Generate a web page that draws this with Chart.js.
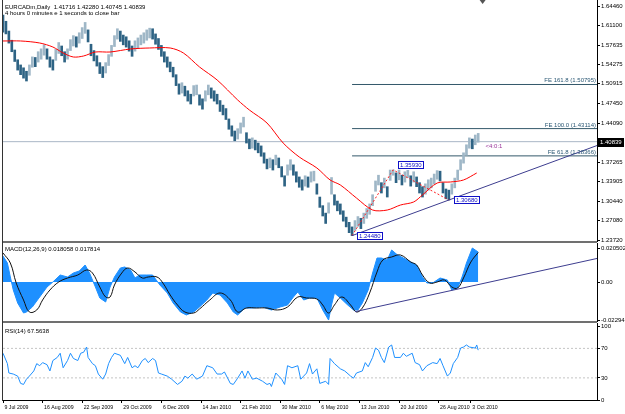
<!DOCTYPE html>
<html>
<head>
<meta charset="utf-8">
<script src="https://cdn.jsdelivr.net/npm/chart.js@4.4.0/dist/chart.umd.min.js"></script>
<style>
  html, body { margin: 0; padding: 0; background: #fff; }
  #wrap { position: relative; width: 625px; height: 414px; overflow: hidden; background: #fff; }
  canvas { position: absolute; left: 0; }
  .sep { position: absolute; left: 3px; width: 594px; height: 2px; background: #707070; }
  #leftEdge { position: absolute; left: 2px; top: 0; width: 1px; height: 401px; background: #333; }
</style>
</head>
<body>
<div id="wrap">
  <div class="sep" style="top:241px"></div>
  <div class="sep" style="top:321px"></div>
  <canvas id="rsiChart" width="625" height="91" style="top:323px"></canvas>
  <canvas id="macdChart" width="625" height="84" style="top:243px"></canvas>
  <canvas id="priceChart" width="625" height="250" style="top:0"></canvas>
  <div id="leftEdge"></div>
</div>
<script>
// ---- data (x = bar number from 9 Jul 2009) ----
const dayLabels = ['9 Jul 2009', '16 Aug 2009', '22 Sep 2009', '29 Oct 2009', '6 Dec 2009', '14 Jan 2010',
  '21 Feb 2010', '30 Mar 2010', '6 May 2010', '13 Jun 2010', '20 Jul 2010', '26 Aug 2010', '3 Oct 2010'];
const dayTicks = [0, 27, 54, 81, 108, 135, 162, 189, 216, 243, 270, 297, 319];
const lastDay = 405;

const priceTicks = [1.64460, 1.61100, 1.57635, 1.54275, 1.50915, 1.47450, 1.44090, 1.37265, 1.33905, 1.30440, 1.27080, 1.23720];
const lastBar = { open: 1.41716, high: 1.42280, low: 1.40745, close: 1.40839 };

// one bar every 2 days
const barStep = 2;
const priceLow = [
  1.5990, 1.5960, 1.5800, 1.5650, 1.5480, 1.5330, 1.5250, 1.5190, 1.5140, 1.5240,
  1.5380, 1.5390, 1.5470, 1.5520, 1.5590, 1.5520, 1.5380, 1.5330, 1.5500, 1.5620,
  1.5580, 1.5470, 1.5520, 1.5670, 1.5750, 1.5730, 1.5800, 1.5880, 1.5970, 1.5820,
  1.5580, 1.5490, 1.5400, 1.5270, 1.5200, 1.5280, 1.5410, 1.5570, 1.5740, 1.5870,
  1.5830, 1.5770, 1.5730, 1.5660, 1.5570, 1.5660, 1.5710, 1.5770, 1.5800, 1.5850,
  1.5890, 1.5870, 1.5780, 1.5690, 1.5570, 1.5470, 1.5380, 1.5300, 1.5210, 1.5060,
  1.4910, 1.4930, 1.4880, 1.4790, 1.4740, 1.4880, 1.4900, 1.4720, 1.4650, 1.4790,
  1.4900, 1.4840, 1.4790, 1.4740, 1.4610, 1.4550, 1.4470, 1.4300, 1.4180, 1.4100,
  1.4130, 1.4230, 1.4340, 1.4060, 1.3960, 1.3970, 1.3940, 1.3890, 1.3830, 1.3710,
  1.3610, 1.3630, 1.3590, 1.3680, 1.3630, 1.3470, 1.3310, 1.3500, 1.3590, 1.3500,
  1.3380, 1.3290, 1.3240, 1.3310, 1.3290, 1.3380, 1.3400, 1.3170, 1.2940, 1.2790,
  1.2660, 1.2840, 1.3170, 1.2980, 1.2880, 1.2820, 1.2700, 1.2600, 1.2500, 1.2448,
  1.2540, 1.2610, 1.2570, 1.2660, 1.2750, 1.2820, 1.2970, 1.3220, 1.3330, 1.3190,
  1.3280, 1.3120, 1.3410, 1.3500, 1.3370, 1.3420, 1.3330, 1.3380, 1.3460, 1.3310,
  1.3380, 1.3300, 1.3190, 1.3120, 1.3170, 1.3240, 1.3280, 1.3350, 1.3430, 1.3400,
  1.3190, 1.3090, 1.3068, 1.3170, 1.3280, 1.3420, 1.3590, 1.3710, 1.3850, 1.3970,
  1.3960, 1.4030, 1.40745
];
const priceHigh = [
  1.6290, 1.6180, 1.6010, 1.5850, 1.5680, 1.5510, 1.5420, 1.5370, 1.5310, 1.5420,
  1.5560, 1.5550, 1.5650, 1.5700, 1.5770, 1.5700, 1.5560, 1.5510, 1.5690, 1.5810,
  1.5750, 1.5650, 1.5700, 1.5860, 1.5930, 1.5910, 1.5980, 1.6070, 1.6160, 1.6030,
  1.5780, 1.5670, 1.5580, 1.5460, 1.5390, 1.5460, 1.5600, 1.5760, 1.5930, 1.6050,
  1.6010, 1.5940, 1.5910, 1.5840, 1.5750, 1.5840, 1.5890, 1.5940, 1.5980, 1.6030,
  1.6060, 1.6050, 1.5960, 1.5880, 1.5760, 1.5650, 1.5560, 1.5470, 1.5380, 1.5250,
  1.5090, 1.5110, 1.5050, 1.4970, 1.4910, 1.5060, 1.5070, 1.4900, 1.4830, 1.4970,
  1.5070, 1.5020, 1.4970, 1.4910, 1.4800, 1.4720, 1.4660, 1.4480, 1.4360, 1.4270,
  1.4310, 1.4410, 1.4510, 1.4240, 1.4130, 1.4150, 1.4110, 1.4060, 1.4010, 1.3890,
  1.3780, 1.3800, 1.3770, 1.3850, 1.3800, 1.3650, 1.3490, 1.3680, 1.3770, 1.3680,
  1.3560, 1.3470, 1.3420, 1.3490, 1.3470, 1.3560, 1.3570, 1.3350, 1.3120, 1.2970,
  1.2840, 1.3020, 1.3460, 1.3160, 1.3050, 1.3000, 1.2880, 1.2770, 1.2680, 1.2600,
  1.2710, 1.2780, 1.2750, 1.2840, 1.2920, 1.3000, 1.3160, 1.3400, 1.3500, 1.3370,
  1.3450, 1.3300, 1.3590, 1.3593, 1.3540, 1.3590, 1.3500, 1.3560, 1.3585, 1.3490,
  1.3560, 1.3470, 1.3370, 1.3300, 1.3350, 1.3420, 1.3450, 1.3520, 1.3580, 1.3570,
  1.3370, 1.3260, 1.3240, 1.3350, 1.3450, 1.3590, 1.3770, 1.3890, 1.4030, 1.4150,
  1.4130, 1.4200, 1.4228
];

const maDay = [0, 12, 25, 34, 41, 48, 55, 63, 73, 87, 100, 114, 123, 134, 146, 160, 168, 180, 191, 202,
  214, 223, 230, 241, 252, 262, 271, 280, 286, 296, 305, 314, 323];
const maValue = [1.5837, 1.5837, 1.5802, 1.5732, 1.5628, 1.5558, 1.5576, 1.5645, 1.5645, 1.5698, 1.5715,
  1.5715, 1.5628, 1.5384, 1.5158, 1.4810, 1.4635, 1.4409, 1.4061, 1.3817, 1.3626, 1.3417, 1.3330, 1.3103,
  1.2894, 1.2894, 1.2981, 1.3034, 1.3156, 1.3364, 1.3382, 1.3417, 1.3539];

const feName = ['FE 161.8', 'FE 100.0', 'FE 61.8'];
const feLevel = [1.50795, 1.43114, 1.38366];
const feStartDay = 238;

const pivotDay = [238, 266, 304];
const pivotPrice = [1.24480, 1.35930, 1.30680];

const trendDay = [238, 405];
const trendPrice = [1.2448, 1.4017];

const ratioText = '<4:0:1';
const ratioDay = 329;
const ratioPrice = 1.4005;

// MACD(12,26,9)
const macdDay = [0, 3, 5, 7, 10, 14, 16, 20, 25, 30, 34, 39, 44, 48, 52, 56, 59, 63, 66, 70,
  73, 76, 80, 83, 87, 90, 93, 98, 102, 107, 112, 116, 121, 125, 130, 134, 139, 143, 148, 153,
  157, 160, 165, 170, 177, 183, 189, 194, 198, 201, 205, 209, 214, 218, 222, 224, 226, 230, 235, 239,
  242, 245, 249, 252, 255, 258, 262, 265, 269, 273, 278, 282, 286, 289, 293, 298, 303, 306, 310, 313,
  316, 320, 324];
const macdValue = [0.01568, 0.01146, 0.00302, -0.00482, -0.01266, -0.01869, -0.01809, -0.01508, -0.00905, -0.00302,
  0, 0.00422, 0.00302, 0.00543, 0.00663, 0.01025, 0.00543, -0.00302, -0.00965, -0.01206,
  -0.00302, 0.00302, 0.00844, 0.00905, 0.00724, 0.00241, 0.00422, 0.00422, 0.00422, -0.00181,
  -0.00663, -0.01266, -0.01809, -0.0199, -0.01809, -0.01508, -0.01085, -0.00663, -0.00784, -0.01266,
  -0.01809, -0.0199, -0.01568, -0.01568, -0.01508, -0.01688, -0.01508, -0.01387, -0.00905, -0.00603,
  -0.01085, -0.00965, -0.00965, -0.01688, -0.02294, -0.01387, -0.00663, -0.00965, -0.01387, -0.01688,
  -0.01688, -0.01266, -0.00482, 0.00543, 0.01447, 0.01447, 0.01327, 0.0193, 0.01628, 0.01447,
  0.01206, 0.01025, 0.00302, -0.0006, -0.0006, 0.00241, 0.00121, -0.00482, -0.00362, 0.00302,
  0.01146, 0.020502, 0.018058];
const signalDay = [0, 5, 9, 14, 18, 23, 27, 32, 38, 44, 51, 57, 61, 66, 70, 73, 76, 81, 85, 90,
  95, 99, 105, 109, 114, 119, 124, 130, 134, 141, 148, 155, 160, 166, 173, 180, 187, 194, 201, 207,
  214, 218, 222, 226, 231, 237, 241, 245, 250, 255, 259, 265, 271, 278, 282, 286, 291, 296, 301, 306,
  310, 314, 319, 324];
const signalValue = [0.01749, 0.01146, -0.0006, -0.01085, -0.01809, -0.01688, -0.01085, -0.00482, 0, 0.00241,
  0.00422, 0.00724, 0.00543, -0.00302, -0.00905, -0.00905, -0.00181, 0.00543, 0.00844, 0.00603,
  0.00241, 0.00302, 0.00302, -0.0006, -0.00784, -0.01387, -0.01809, -0.01869, -0.01628, -0.01085,
  -0.00663, -0.01085, -0.01809, -0.01568, -0.01568, -0.01568, -0.01688, -0.01508, -0.00905, -0.00965,
  -0.01025, -0.01387, -0.01869, -0.01387, -0.00905, -0.01387, -0.01809, -0.01568, -0.00663, 0.00603,
  0.01327, 0.01508, 0.01628, 0.01206, 0.01025, 0.00422, -0.0006, 0, 0.00121, -0.00302,
  -0.00362, 0.00241, 0.01206, 0.017814];
const macdTrendDay = [240, 405];
const macdTrendValue = [-0.0179, 0.0142];
const macdTicks = [0.020502, 0, -0.02294];
const macdTickText = ['0.020502', '0.00', '-0.02294'];

// RSI(14)
const rsiDay = [0, 3, 4, 7, 10, 12, 14, 16, 18, 21, 23, 25, 27, 30, 32, 34, 37, 39, 41, 44,
  46, 48, 51, 53, 55, 57, 58, 61, 63, 65, 68, 70, 72, 74, 76, 80, 83, 85, 88, 90,
  92, 95, 97, 99, 102, 104, 106, 108, 112, 115, 119, 122, 124, 126, 129, 132, 136, 139, 143, 146,
  149, 151, 155, 157, 160, 163, 165, 167, 170, 173, 177, 180, 182, 183, 186, 188, 190, 192, 194, 197,
  201, 203, 205, 207, 209, 211, 214, 216, 220, 222, 223, 226, 230, 233, 237, 239, 241, 245, 247, 249,
  252, 254, 256, 258, 260, 263, 265, 267, 271, 273, 275, 279, 281, 284, 286, 289, 293, 296, 298, 300,
  303, 305, 307, 310, 312, 314, 316, 318, 322, 323, 324];
const rsiValue = [63.4, 49.3, 36.6, 35.2, 32.4, 22.5, 21.1, 28.2, 32.4, 39.4, 49.3, 46.5, 50.7, 47.9, 39.4, 53.5, 57.7, 63.4, 43.7, 53.5,
  63.4, 56.3, 53.5, 63.4, 64.8, 71.8, 57.7, 49.3, 46.5, 35.2, 28.2, 35.2, 49.3, 57.7, 63.4, 60.6, 49.3, 57.7, 43.7, 46.5,
  43.7, 53.5, 56.3, 50.7, 56.3, 53.5, 36.6, 35.2, 32.4, 28.2, 21.1, 25.4, 32.4, 29.6, 35.2, 28.2, 32.4, 46.5, 43.7, 35.2,
  35.2, 38.0, 22.5, 21.1, 29.6, 39.4, 29.6, 39.4, 28.2, 29.6, 25.4, 21.1, 22.5, 18.3, 36.6, 32.4, 28.2, 21.1, 46.5, 43.7,
  46.5, 28.2, 32.4, 36.6, 49.3, 35.2, 42.3, 22.5, 25.4, 21.1, 56.3, 49.3, 42.3, 39.4, 32.4, 29.6, 36.6, 39.4, 50.7, 45.1,
  57.7, 70.4, 67.6, 57.7, 50.7, 71.8, 74.6, 57.7, 57.7, 63.4, 59.2, 63.4, 50.7, 47.9, 39.4, 46.5, 50.7, 49.3, 56.3, 46.5,
  32.4, 36.6, 49.3, 57.7, 70.4, 71.8, 74.6, 71.8, 70.4, 74.6, 67.5638];
const rsiTicks = [100, 70, 30, 0];
const rsiLevels = [70, 30];

// ---- chart setup ----
Chart.defaults.font.family = '"Liberation Sans", Arial, sans-serif';
Chart.defaults.font.size = 6;
Chart.defaults.color = '#000';
Chart.defaults.animation = false;

const tinyFont = '6px "Liberation Sans", Arial, sans-serif';
const pts = (xs, ys) => xs.map((d, i) => ({ x: d, y: ys[i] }));

function xAxis(show) {
    return {
        type: 'linear', min: 0, max: lastDay, offset: false, display: show, bounds: 'data',
        afterBuildTicks: s => { s.ticks = dayTicks.map(v => ({ value: v })); },
        afterFit: s => { s.paddingLeft = 0; s.paddingRight = 0; if (show) s.height = 14; },
        grid: { drawOnChartArea: false, offset: false, tickLength: 3, color: '#000' },
        border: { color: '#000' },
        ticks: { align: 'start', labelOffset: 1.5, padding: 1, autoSkip: false, maxRotation: 0,
            font: { size: 5.2 },
            callback: v => dayLabels[dayTicks.indexOf(v)] }
    };
}

function yAxis(min, max, ticks, fmt) {
    return {
        position: 'right', min: min, max: max, bounds: 'data', beginAtZero: false,
        afterBuildTicks: s => { s.ticks = ticks.map(v => ({ value: v })); },
        afterFit: s => { s.width = 28; s.paddingTop = 0; s.paddingBottom = 0; },
        grid: { drawOnChartArea: false, tickLength: 3, color: '#000' },
        border: { color: '#000' },
        ticks: { padding: 1, autoSkip: false, callback: fmt }
    };
}

function common(bottomPad) {
    return {
        responsive: false,
        devicePixelRatio: 1,
        events: [],
        layout: { padding: { left: 3, right: 0, top: 0, bottom: bottomPad } },
        plugins: { legend: { display: false }, tooltip: { enabled: false } }
    };
}

// price panel texts
const priceText = {
    id: 'priceText',
    afterDatasetsDraw(chart) {
        const { ctx, scales: { x, y } } = chart;
        ctx.save();
        ctx.font = tinyFont;
        ctx.textBaseline = 'alphabetic';

        ctx.fillStyle = '#000';
        ctx.fillText(`EURCADm,Daily  ${lastBar.open.toFixed(5)} ${lastBar.high.toFixed(5)} ${lastBar.low.toFixed(5)} ${lastBar.close.toFixed(5)}`, 5, 9);
        ctx.fillText('4 hours 0 minutes e 1 seconds to close bar', 5, 15);

        ctx.textAlign = 'right';
        ctx.fillStyle = '#2b5874';
        feLevel.forEach((lv, i) => {
            ctx.fillText(`${feName[i]} (${lv.toFixed(5)})`, x.right - 1, y.getPixelForValue(lv) - 2);
        });

        ctx.textAlign = 'left';
        ctx.textBaseline = 'middle';
        ctx.fillStyle = '#993399';
        ctx.fillText(ratioText, x.getPixelForValue(ratioDay), y.getPixelForValue(ratioPrice));

        // pivot boxes
        pivotDay.forEach((d, i) => {
            const px = x.getPixelForValue(d), py = y.getPixelForValue(pivotPrice[i]);
            const label = pivotPrice[i].toFixed(5);
            const w = Math.ceil(ctx.measureText(label).width) + 3;
            const top = Math.round(i === 1 ? py - 9 : py - 4) + 0.5;
            const left = Math.round(px + 5) + 0.5;
            ctx.fillStyle = '#fff';
            ctx.fillRect(left, top, w, 7);
            ctx.strokeStyle = '#1010c8';
            ctx.lineWidth = 1;
            ctx.strokeRect(left, top, w, 7);
            ctx.fillStyle = '#1010c8';
            ctx.fillText(label, left + 1.5, top + 4);
        });

        // chart shift marker
        const sx = x.getPixelForValue(327);
        ctx.fillStyle = '#555';
        ctx.beginPath();
        ctx.moveTo(sx - 3, 0); ctx.lineTo(sx + 3, 0); ctx.lineTo(sx, 4); ctx.closePath();
        ctx.fill();
        ctx.restore();
    },
    afterDraw(chart) {
        const { ctx, scales: { y } } = chart;
        const py = Math.round(y.getPixelForValue(lastBar.close));
        ctx.save();
        ctx.fillStyle = '#000';
        ctx.fillRect(598, py - 4, 26, 9);
        ctx.fillStyle = '#fff';
        ctx.font = tinyFont;
        ctx.textBaseline = 'middle';
        ctx.fillText(lastBar.close.toFixed(5), 600, py + 0.5);
        ctx.restore();
    }
};

const priceBars = priceLow.map((lo, k) => ({ x: k * barStep, y: [lo, priceHigh[k]] }));

new Chart(document.getElementById('priceChart'), {
    type: 'bar',
    data: {
        datasets: [
            {
                type: 'line', order: 0,
                data: pts(trendDay, trendPrice),
                borderColor: '#3d3d8f', borderWidth: 1, pointRadius: 0
            },
            {
                type: 'line', order: 1,
                data: pts(pivotDay, pivotPrice),
                borderColor: '#ff2020', borderWidth: 1, borderDash: [2, 2], pointRadius: 0
            },
            {
                type: 'line', order: 2,
                data: pts(maDay, maValue),
                borderColor: '#ff0000', borderWidth: 1, pointRadius: 0, tension: 0.3
            },
            {
                type: 'bar', order: 3,
                data: priceBars,
                barThickness: 2,
                backgroundColor: c => {
                    const k = c.dataIndex;
                    if (k === 0) return '#2e6384';
                    const mid = priceLow[k] + priceHigh[k], prev = priceLow[k - 1] + priceHigh[k - 1];
                    return mid >= prev ? '#9fb7c7' : '#2e6384';
                }
            },
            ...feLevel.map(lv => ({
                type: 'line', order: 4,
                data: [{ x: feStartDay, y: lv }, { x: lastDay, y: lv }],
                borderColor: '#34596b', borderWidth: 1, pointRadius: 0
            })),
            {
                type: 'line', order: 5,
                data: [{ x: 0, y: lastBar.close }, { x: lastDay, y: lastBar.close }],
                borderColor: '#a9b6c6', borderWidth: 1, pointRadius: 0
            }
        ]
    },
    options: {
        ...common(9),
        scales: {
            x: xAxis(false),
            y: yAxis(1.23546, 1.65505, priceTicks, v => v.toFixed(5))
        }
    },
    plugins: [priceText]
});

// MACD panel
const macdText = {
    id: 'macdText',
    afterDatasetsDraw(chart) {
        const ctx = chart.ctx;
        ctx.save();
        ctx.font = tinyFont;
        ctx.fillStyle = '#000';
        ctx.fillText(`MACD(12,26,9) ${macdValue[macdValue.length - 1].toFixed(6)} ${signalValue[signalValue.length - 1].toFixed(6)}`, 5, 8);
        ctx.restore();
    }
};

new Chart(document.getElementById('macdChart'), {
    type: 'line',
    data: {
        datasets: [
            {
                data: pts(macdTrendDay, macdTrendValue),
                borderColor: '#3d3d8f', borderWidth: 1, pointRadius: 0
            },
            {
                data: pts(signalDay, signalValue),
                borderColor: '#111', borderWidth: 1, pointRadius: 0, tension: 0.4
            },
            {
                data: pts(macdDay, macdValue),
                borderColor: '#1e90ff', backgroundColor: '#1e90ff', borderWidth: 1,
                pointRadius: 0, fill: 'origin', tension: 0
            }
        ]
    },
    options: {
        ...common(6),
        scales: {
            x: xAxis(false),
            y: yAxis(-0.02352, 0.02352, macdTicks, v => macdTickText[macdTicks.indexOf(v)])
        }
    },
    plugins: [macdText]
});

// RSI panel
const rsiText = {
    id: 'rsiText',
    afterDatasetsDraw(chart) {
        const ctx = chart.ctx;
        ctx.save();
        ctx.font = tinyFont;
        ctx.fillStyle = '#000';
        ctx.fillText(`RSI(14) ${rsiValue[rsiValue.length - 1].toFixed(4)}`, 5, 10);
        ctx.restore();
    }
};

new Chart(document.getElementById('rsiChart'), {
    type: 'line',
    data: {
        datasets: [
            {
                data: pts(rsiDay, rsiValue),
                borderColor: '#1e90ff', borderWidth: 1, pointRadius: 0, tension: 0
            },
            ...rsiLevels.map(lv => ({
                data: [{ x: 0, y: lv }, { x: lastDay, y: lv }],
                borderColor: '#c4c4c4', borderWidth: 1, borderDash: [2, 2], pointRadius: 0
            }))
        ]
    },
    options: {
        ...common(0),
        scales: {
            x: xAxis(true),
            y: yAxis(0, 104.4, rsiTicks, v => String(v))
        }
    },
    plugins: [rsiText]
});
</script>
</body>
</html>
